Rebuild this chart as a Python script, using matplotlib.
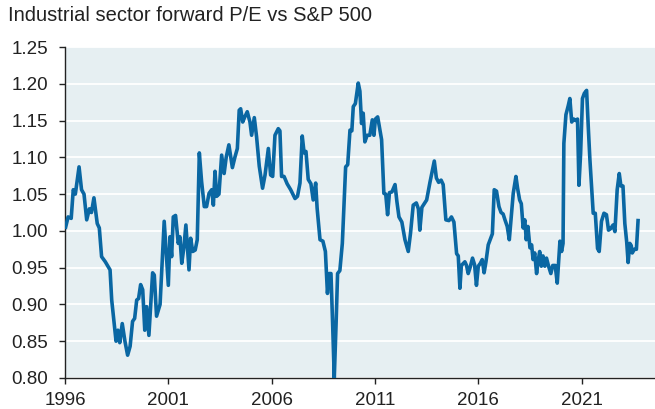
import matplotlib
matplotlib.use("Agg")
import matplotlib.pyplot as plt

# values (decimal year, relative forward P/E)
years = [
    1996.03, 1996.15, 1996.3, 1996.4, 1996.5, 1996.68, 1996.8, 1996.92, 1997.05, 1997.18,
    1997.28, 1997.4, 1997.56, 1997.66, 1997.77, 1997.95, 1998.18, 1998.26, 1998.47, 1998.56,
    1998.65, 1998.77, 1998.9, 1999.03, 1999.15, 1999.27, 1999.37, 1999.47, 1999.56, 1999.66,
    1999.76, 1999.86, 1999.95, 2000.06, 2000.24, 2000.32, 2000.43, 2000.6, 2000.8, 2001.0,
    2001.08, 2001.16, 2001.24, 2001.35, 2001.48, 2001.56, 2001.65, 2001.75, 2001.85, 2002.0,
    2002.08, 2002.18, 2002.3, 2002.4, 2002.5, 2002.61, 2002.74, 2002.85, 2002.97, 2003.1,
    2003.18, 2003.26, 2003.34, 2003.45, 2003.58, 2003.7, 2003.8, 2003.93, 2004.1, 2004.22,
    2004.34, 2004.43, 2004.5, 2004.6, 2004.7, 2004.82, 2004.95, 2005.03, 2005.16, 2005.27,
    2005.4, 2005.56, 2005.68, 2005.84, 2005.95, 2006.05, 2006.16, 2006.32, 2006.4, 2006.48,
    2006.6, 2006.75, 2006.92, 2007.13, 2007.25, 2007.37, 2007.48, 2007.57, 2007.66, 2007.77,
    2007.9, 2008.01, 2008.13, 2008.2, 2008.34, 2008.48, 2008.6, 2008.7, 2008.78, 2008.87,
    2008.95, 2009.03, 2009.12, 2009.19, 2009.3, 2009.42, 2009.58, 2009.68, 2009.79, 2009.88,
    2009.95, 2010.05, 2010.19, 2010.27, 2010.35, 2010.43, 2010.51, 2010.62, 2010.75, 2010.87,
    2010.95, 2011.02, 2011.13, 2011.22, 2011.32, 2011.43, 2011.52, 2011.61, 2011.7, 2011.82,
    2011.97, 2012.06, 2012.16, 2012.3, 2012.45, 2012.61, 2012.72, 2012.85, 2013.0, 2013.1,
    2013.17, 2013.27, 2013.5, 2013.66, 2013.87, 2013.97, 2014.08, 2014.2, 2014.3, 2014.43,
    2014.58, 2014.7, 2014.82, 2014.95, 2015.03, 2015.11, 2015.18, 2015.35, 2015.43, 2015.51,
    2015.6, 2015.72, 2015.82, 2015.91, 2016.0, 2016.1, 2016.19, 2016.28, 2016.37, 2016.48,
    2016.6, 2016.68, 2016.77, 2016.88, 2017.0, 2017.1, 2017.2, 2017.29, 2017.4, 2017.5,
    2017.58, 2017.69, 2017.82, 2017.9, 2018.0, 2018.08, 2018.17, 2018.25, 2018.32, 2018.4,
    2018.5, 2018.58, 2018.65, 2018.73, 2018.82, 2018.9, 2018.97, 2019.05, 2019.13, 2019.22,
    2019.3, 2019.4, 2019.51, 2019.6, 2019.72, 2019.82, 2019.95, 2020.03, 2020.1, 2020.14,
    2020.24, 2020.35, 2020.43, 2020.52, 2020.62, 2020.72, 2020.8, 2020.87, 2020.95, 2021.04,
    2021.13, 2021.24, 2021.32, 2021.4, 2021.48, 2021.56, 2021.66, 2021.77, 2021.85, 2021.96,
    2022.08, 2022.2, 2022.3, 2022.4, 2022.52, 2022.61, 2022.72, 2022.82, 2022.9, 2023.0,
    2023.09, 2023.18, 2023.25, 2023.33, 2023.4, 2023.45, 2023.55, 2023.65, 2023.73,
]
pe_rel = [
    1.005, 1.019, 1.017, 1.056, 1.05, 1.087, 1.056, 1.05, 1.015, 1.03,
    1.025, 1.045, 1.01, 1.004, 0.965, 0.958, 0.947, 0.906, 0.85, 0.865,
    0.848, 0.874, 0.85, 0.831, 0.843, 0.877, 0.881, 0.906, 0.908, 0.927,
    0.92, 0.865, 0.897, 0.858, 0.943, 0.94, 0.884, 0.9, 1.013, 0.926,
    0.992, 0.965, 1.019, 1.021, 0.983, 0.992, 0.956, 0.977, 1.008, 0.947,
    0.99, 0.972, 0.974, 0.988, 1.106, 1.067, 1.033, 1.033, 1.051, 1.056,
    1.035, 1.081, 1.047, 1.05, 1.103, 1.078, 1.1, 1.117, 1.086, 1.1,
    1.112, 1.164, 1.166, 1.148, 1.155, 1.162, 1.148, 1.13, 1.154, 1.128,
    1.088, 1.058, 1.076, 1.112, 1.076, 1.074, 1.13, 1.139, 1.136, 1.074,
    1.074, 1.064, 1.056, 1.044, 1.047, 1.065, 1.129, 1.106, 1.108, 1.07,
    1.064, 1.042, 1.065, 1.031, 0.988, 0.986, 0.972, 0.915, 0.942, 0.942,
    0.874, 0.80, 0.876, 0.942, 0.946, 0.983, 1.087, 1.09, 1.137, 1.136,
    1.169, 1.173, 1.201, 1.19, 1.146, 1.16, 1.121, 1.13, 1.13, 1.151,
    1.13, 1.152, 1.155, 1.14, 1.124, 1.051, 1.05, 1.022, 1.052, 1.053,
    1.063, 1.04, 1.019, 1.012, 0.988, 0.972, 0.997, 1.035, 1.038, 1.03,
    1.001, 1.032, 1.042, 1.066, 1.095, 1.072, 1.066, 1.069, 1.063, 1.015,
    1.014, 1.019, 1.012, 0.969, 0.966, 0.922, 0.953, 0.958, 0.953, 0.942,
    0.95, 0.963, 0.954, 0.926, 0.952, 0.956, 0.961, 0.943, 0.958, 0.981,
    0.99, 0.996, 1.056, 1.054, 1.033, 1.025, 1.023, 1.015, 1.006, 0.988,
    1.015, 1.051, 1.074, 1.058, 1.042, 1.037, 1.004, 1.015, 0.988, 1.006,
    0.977, 0.981, 0.961, 0.97, 0.942, 0.96, 0.972, 0.952, 0.966, 0.952,
    0.963, 0.952, 0.942, 0.953, 0.953, 0.929, 0.986, 0.972, 0.983, 1.119,
    1.158, 1.17, 1.18, 1.148, 1.152, 1.15, 1.152, 1.062, 1.105, 1.18,
    1.187, 1.191, 1.142, 1.097, 1.06, 1.024, 1.024, 0.976, 0.972, 1.013,
    1.024, 1.022, 1.001, 1.003, 1.008, 0.999, 1.056, 1.078, 1.061, 1.061,
    1.01, 0.985, 0.957, 0.983, 0.98, 0.970, 0.975, 0.975, 1.014,
]
year_ticks = [1996, 2001, 2006, 2011, 2016, 2021]
y_ticks = [0.80, 0.85, 0.90, 0.95, 1.00, 1.05, 1.10, 1.15, 1.20, 1.25]

plt.rcParams["font.family"] = ["Liberation Sans", "DejaVu Sans"]

fig = plt.figure(figsize=(6.55, 4.09), dpi=100)
ax = fig.add_axes([65 / 655, 31 / 409, 590 / 655, 331 / 409])
ax.set_facecolor("#E6EFF2")

ax.plot(years, pe_rel, color="#0A67A3", lw=2.6, solid_joinstyle="round", zorder=3)

ax.set_xlim(1996, 2024.55)
ax.set_ylim(0.80, 1.25)
ax.set_yticks(y_ticks)
ax.set_yticklabels([f"{v:.2f}" for v in y_ticks])
ax.set_xticks(year_ticks)
ax.set_xticklabels([str(y) for y in year_ticks])
ax.grid(axis="y", color="white", lw=1.3)
ax.set_axisbelow(True)

for s in ("top", "right"):
    ax.spines[s].set_visible(False)
for s in ("left", "bottom"):
    ax.spines[s].set_color("#222222")
    ax.spines[s].set_linewidth(1.0)
ax.tick_params(axis="y", length=4, width=1, pad=8, labelsize=13.5, colors="#222222")
ax.tick_params(axis="x", length=4, width=1, pad=6, labelsize=13.5, colors="#222222")

fig.text(0.012, 0.985, "Industrial sector forward P/E vs S&P 500", ha="left", va="top",
         fontsize=14.5, color="#222222")

fig.savefig("out.png", dpi=100)
